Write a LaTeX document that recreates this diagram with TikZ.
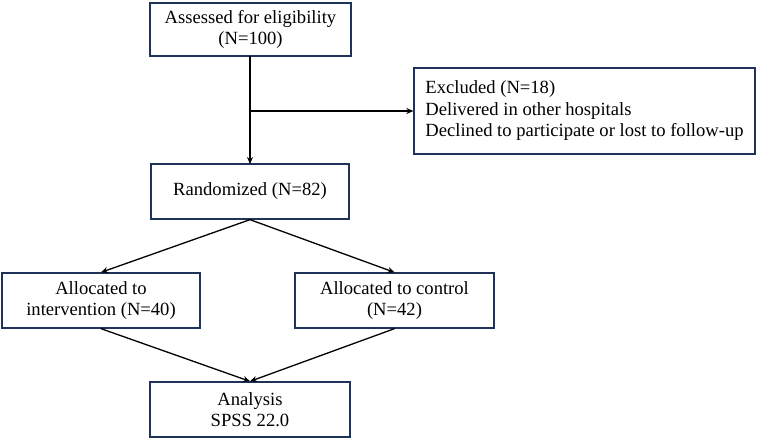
\documentclass[tikz,border=0pt]{standalone}
\usepackage{fontspec}
\setmainfont{Liberation Serif}
\usetikzlibrary{arrows.meta}
\definecolor{boxnavy}{HTML}{1F3358}
\begin{document}
\begin{tikzpicture}[x=1pt,y=-1pt,
  box/.style={draw=boxnavy,line width=1.3pt,rectangle,inner sep=0pt,align=center,
    font=\fontsize{18.6}{21.5}\selectfont},
  conn/.style={line width=1.3pt,-{Stealth[length=7pt,width=6pt]}}]
\useasboundingbox (0,0) rectangle (758,439);
\node[box,minimum width=201pt,minimum height=53pt] (assess) at (250.5,29.5) {Assessed for eligibility\\(N=100)};
\node[box,minimum width=341pt,minimum height=86pt,align=left] (excl) at (584.5,111) {Excluded (N=18)\\Delivered in other hospitals\\Declined to participate or lost to follow-up};
\node[box,minimum width=198pt,minimum height=55pt] (rand) at (250,191.5) {Randomized (N=82)};
\node[box,minimum width=198pt,minimum height=55pt] (inter) at (101,300.5) {Allocated to\\intervention (N=40)};
\node[box,minimum width=199pt,minimum height=55pt] (ctrl) at (394.5,300.5) {Allocated to control\\(N=42)};
\node[box,minimum width=200pt,minimum height=55pt] (anal) at (250,409.5) {Analysis\\SPSS 22.0};
\coordinate (top) at (250,56);
\coordinate (br) at (250,111);
\coordinate (rtop) at (250,164);
\draw[conn] (top) -- (rtop);
\draw[conn] (br) -- (excl.west);
\draw[conn] (rand.south) -- (inter.north);
\draw[conn] (rand.south) -- (ctrl.north);
\draw[conn] (inter.south) -- (anal.north);
\draw[conn] (ctrl.south) -- (anal.north);
\end{tikzpicture}
\end{document}
